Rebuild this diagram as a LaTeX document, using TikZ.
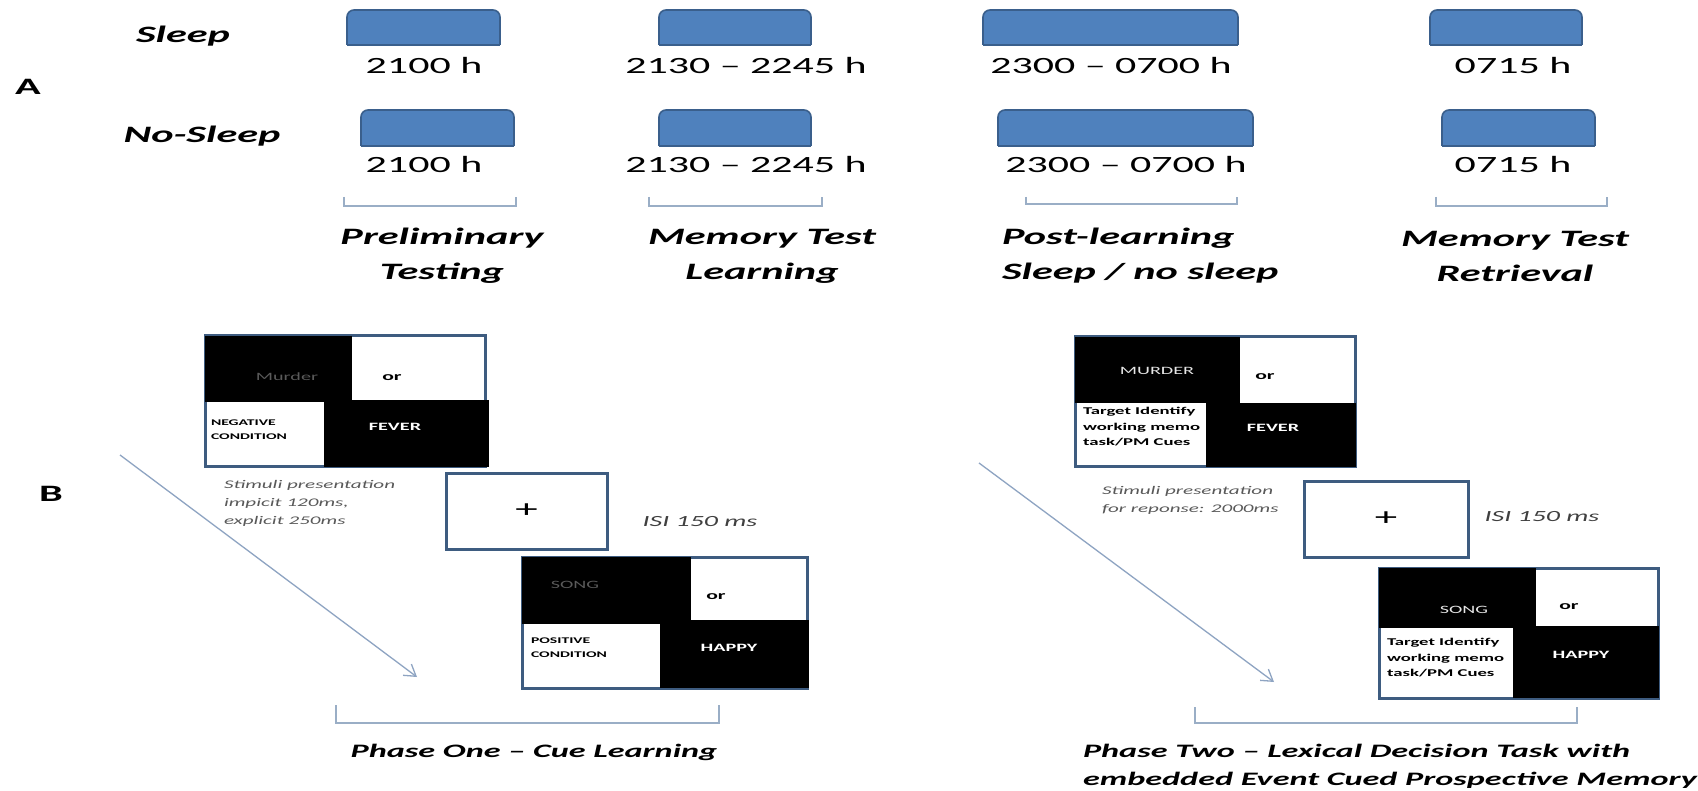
\documentclass[tikz,border=0pt]{standalone}
\usepackage{fontspec}
\setmainfont{Carlito}[FakeStretch=1.8]
\usetikzlibrary{arrows.meta}
\definecolor{boxblue}{HTML}{4F81BD}
\definecolor{boxedge}{HTML}{3A5F8C}
\definecolor{framec}{HTML}{3E5C80}
\definecolor{brkc}{HTML}{9AAEC6}
\definecolor{arrc}{HTML}{8EA4C2}
\definecolor{stimgray}{HTML}{595959}
\definecolor{isigray}{HTML}{404040}
\definecolor{dimword}{HTML}{5A5A5A}
\definecolor{lightword}{HTML}{E6E6E6}
\newcommand{\tslot}[5]{%
  \node[minimum width={#4-#2}, minimum height={#5-#3}] (#1) at ({(#2+#4)/2},{(#3+#5)/2}) {};
  \fill[boxblue, rounded corners=7pt] (#1.south west) -- (#1.north west) -- (#1.north east) -- (#1.south east);
  \draw[boxedge, line width=1.6pt, rounded corners=7pt] (#1.south west) -- (#1.north west) -- (#1.north east) -- (#1.south east);
  \draw[boxedge, line width=1.6pt] (#1.south east) -- (#1.south west);
}
\begin{document}
\begin{tikzpicture}[x=1pt,y=-1pt,
  every node/.style={inner sep=0pt, outer sep=0pt},
  lbl/.style={font=\fontsize{23.5}{35}\selectfont\bfseries\itshape, align=center},
  tm/.style={font=\fontsize{23.3}{32}\selectfont},
  letter/.style={font=\fontsize{23.5}{32}\selectfont\bfseries},
  brk/.style={draw=brkc, line width=1.6pt},
  scr/.style={draw=framec, line width=3pt, fill=white},
  word/.style={font=\fontsize{11.2}{15}\selectfont},
  bword/.style={font=\fontsize{11.2}{15}\selectfont\bfseries},
  orw/.style={font=\fontsize{12}{16}\selectfont\bfseries},
  cond/.style={font=\fontsize{8.7}{14}\selectfont\bfseries, align=left, anchor=west},
  targ/.style={font=\fontsize{10.4}{15.5}\selectfont\bfseries, align=left, anchor=west},
  stim/.style={font=\fontsize{11.7}{18}\selectfont\itshape, text=stimgray, align=left, anchor=west},
  isi/.style={font=\fontsize{15.5}{20}\selectfont\itshape, text=isigray},
  plus/.style={font=\fontsize{25}{30}\selectfont},
  ph/.style={font=\fontsize{19}{28}\selectfont\bfseries\itshape},
  arrw/.style={draw=arrc, line width=1.3pt, -{Straight Barb[length=11pt,width=14pt,line width=1.3pt]}}
]
\fill[white] (0,0) rectangle (1698,791);
\useasboundingbox (0,0) rectangle (1698,791);

% ---------- Part A ----------
\node[letter] (A) at (28,87) {A};
\node[lbl] (sl) at (183,36) {Sleep};
\node[lbl] (ns) at (202,136) {No-Sleep};

\tslot{s1}{347}{10}{500}{45}
\tslot{s2}{659}{10}{811}{45}
\tslot{s3}{983}{10}{1238}{45}
\tslot{s4}{1430}{10}{1582}{45}
\tslot{n1}{361}{110}{514}{146}
\tslot{n2}{659}{110}{811}{146}
\tslot{n3}{998}{110}{1253}{146}
\tslot{n4}{1442}{110}{1595}{146}

\node[tm] (ts1) at (424,65) {2100 h};
\node[tm] (ts2) at (746,65) {2130 – 2245 h};
\node[tm] (ts3) at (1111,65) {2300 – 0700 h};
\node[tm] (ts4) at (1513,65) {0715 h};
\node[tm] (tn1) at (424,164) {2100 h};
\node[tm] (tn2) at (746,164) {2130 – 2245 h};
\node[tm] (tn3) at (1126,164) {2300 – 0700 h};
\node[tm] (tn4) at (1513,164) {0715 h};

\draw[brk] (344,197) -- (344,206) -- (516,206) -- (516,197);
\draw[brk] (649,197) -- (649,206) -- (822,206) -- (822,197);
\draw[brk] (1026,197) -- (1026,204) -- (1237,204) -- (1237,197);
\draw[brk] (1436,197) -- (1436,206) -- (1607,206) -- (1607,197);

\node[lbl] (l1) at (442,256) {Preliminary\\Testing};
\node[lbl] (l2) at (762,256) {Memory Test\\Learning};
\node[lbl, align=left, anchor=west] (l3) at (1002,256) {Post-learning\\Sleep / no sleep};
\node[lbl] (l4) at (1515,256) {Memory Test\\Retrieval};

% ---------- Part B ----------
\node[letter] (B) at (51,494) {B};

% panel 1
\node[scr, minimum width=280pt, minimum height=131pt] (p1) at (345,401.5) {};
\fill[black] (p1.north west) rectangle (352,402);
\fill[black] (324,400) rectangle (489,467);
\node[word, text=dimword] (m1) at (287,377) {Murder};
\node[orw] (o1) at (392,378) {or};
\node[cond] (c1) at (211,430) {NEGATIVE\\CONDITION};
\node[bword, text=white] (f1) at (395,427) {FEVER};
\node[stim] (st1) at (224,503) {Stimuli presentation\\impicit 120ms,\\explicit 250ms};
\node[scr, plus, minimum width=161pt, minimum height=76pt] (x1) at (526.5,511) {+};
\node[isi] (i1) at (700,522) {ISI 150 ms};

% panel 2
\node[scr, minimum width=285pt, minimum height=131pt] (p2) at (664.5,622.5) {};
\fill[black] (p2.north west) rectangle (691,624);
\fill[black] (660,620) rectangle (809,688);
\node[word, text=dimword] (m2) at (575,585) {SONG};
\node[orw] (o2) at (716,597) {or};
\node[cond] (c2) at (531,648) {POSITIVE\\CONDITION};
\node[bword, text=white] (h2) at (729,648) {HAPPY};

\coordinate (a1s) at (120,455);
\coordinate (a1e) at (417,677);
\draw[arrw] (a1s) -- (a1e);
\draw[brk] (336,705) -- (336,723) -- (719,723) -- (719,705);
\node[ph] (ph1) at (534,752) {Phase One – Cue Learning};

% panel 3
\node[scr, minimum width=280pt, minimum height=130pt] (p3) at (1215,402) {};
\fill[black] (p3.north west) rectangle (1240,403);
\node[targ] (tg3) at (1083,427) {Target Identify\\working memo\\task/PM Cues};
\fill[black] (1206,403) rectangle (1356,467);
\node[word, text=lightword] (m3) at (1157,371) {MURDER};
\node[orw] (o3) at (1265,377) {or};
\node[bword, text=white] (f3) at (1273,428) {FEVER};
\node[stim] (st3) at (1102,500) {Stimuli presentation\\for reponse: 2000ms};
\node[scr, plus, minimum width=164pt, minimum height=76pt] (x2) at (1386,519) {+};
\node[isi] (i2) at (1542,517) {ISI 150 ms};

% panel 4
\node[scr, minimum width=279pt, minimum height=130pt] (p4) at (1518.5,633) {};
\fill[black] (p4.north west) rectangle (1536,628);
\node[targ] (tg4) at (1387,658) {Target Identify\\working memo\\task/PM Cues};
\fill[black] (1513,626) rectangle (1659,698);
\node[word, text=lightword] (m4) at (1464,610) {SONG};
\node[orw] (o4) at (1569,607) {or};
\node[bword, text=white] (h4) at (1581,655) {HAPPY};

\coordinate (a2s) at (979,463);
\coordinate (a2e) at (1274,682);
\draw[arrw] (a2s) -- (a2e);
\draw[brk] (1195,707) -- (1195,723) -- (1577,723) -- (1577,707);
\node[ph, align=left, anchor=west] (ph2) at (1083,766) {Phase Two – Lexical Decision Task with\\embedded Event Cued Prospective Memory};
\end{tikzpicture}
\end{document}
